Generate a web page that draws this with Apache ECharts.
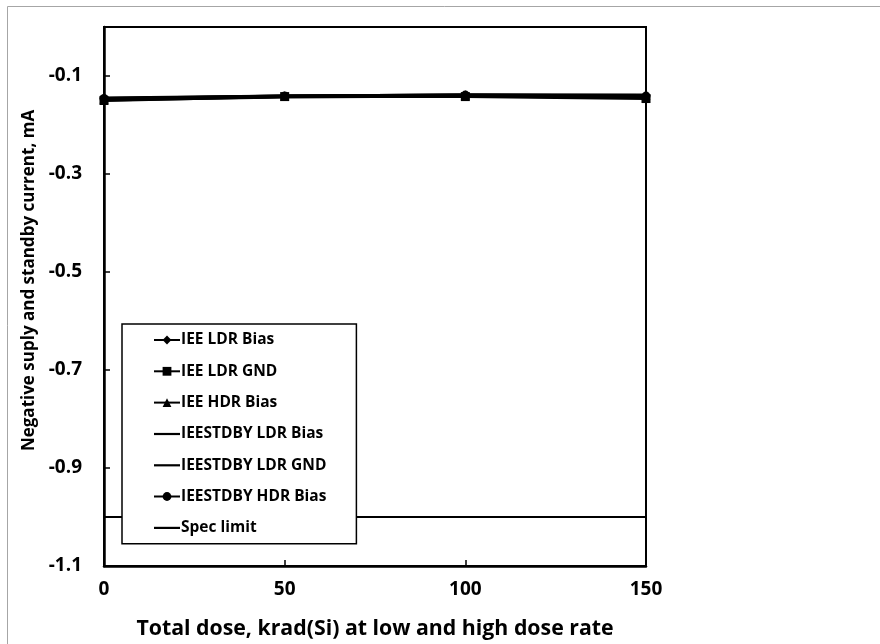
<!DOCTYPE html>
<html><head><meta charset="utf-8">
<script src="https://cdn.jsdelivr.net/npm/echarts@6/dist/echarts.min.js"></script>
<style>html,body{margin:0;padding:0;background:#fff}#c{width:880px;height:644px}</style>
</head><body><div id="c"></div>
<script>
const doses = [0, 50, 100, 150];
const ieeLdrBias = [-0.145, -0.141, -0.139, -0.140];
const ieeLdrGnd = [-0.150, -0.142, -0.142, -0.146];
const ieeHdrBias = [-0.147, -0.141, -0.139, -0.139];
const stdbyLdrBias = [-0.148, -0.142, -0.140, -0.142];
const stdbyLdrGnd = [-0.149, -0.143, -0.141, -0.144];
const stdbyHdrBias = [-0.146, -0.141, -0.139, -0.141];
const specDoses = [0, 150];
const specLimit = [-1.0, -1.0];
const names = ['IEE LDR Bias','IEE LDR GND','IEE HDR Bias','IEESTDBY LDR Bias','IEESTDBY LDR GND','IEESTDBY HDR Bias','Spec limit'];

const FONT = 'Open Sans';
const LINE_ICON = 'path://M0,0M26,11M0,4.5h26v2.2h-26z';
function pts(xs, ys){ return xs.map((x,i)=>[x, ys[i]]); }
function mk(name, ys, symbol, size, xs){
  return {name, type:'line', data: pts(xs||doses, ys), symbol: symbol||'none', symbolSize: size||8, showSymbol: !!symbol,
    lineStyle:{color:'#000', width:3}, itemStyle:{color:'#000'}, emphasis:{disabled:true}, animation:false};
}
const legendData = names.map((n,i)=> (i===3||i===4||i===6) ? {name:n, icon:LINE_ICON} : {name:n});
const chart = echarts.init(document.getElementById('c'), null, {renderer:'canvas'});
chart.setOption({
  animation:false,
  backgroundColor:'#fff',
  graphic:[{type:'rect', shape:{x:7.5,y:6.5,width:900,height:700}, style:{fill:'none', stroke:'#a6a6a6', lineWidth:1}, silent:true}],
  grid:{left:104, right:234, top:27, bottom:78, show:true, borderColor:'#000', borderWidth:2},
  xAxis:{type:'value', min:0, max:150, interval:50,
    name:'Total dose, krad(Si) at low and high dose rate', nameLocation:'middle', nameGap:52,
    nameTextStyle:{fontFamily:FONT, fontWeight:'bold', fontSize:21.3, color:'#000'},
    axisLine:{onZero:false, lineStyle:{color:'#000', width:2.5}},
    axisTick:{inside:true, length:6, lineStyle:{color:'#000', width:1.5}},
    axisLabel:{fontFamily:FONT, fontWeight:'bold', fontSize:19, color:'#000', margin:14},
    splitLine:{show:false}},
  yAxis:{type:'value', min:-1.1, max:0, interval:0.2,
    name:'Negative suply and standby current, mA', nameLocation:'middle', nameGap:44,
    nameTextStyle:{fontFamily:FONT, fontWeight:'bold', fontSize:17, color:'#000', padding:[0,0,0,32]},
    axisLine:{onZero:false, lineStyle:{color:'#000', width:2.5}},
    axisTick:{inside:true, length:6, lineStyle:{color:'#000', width:1.5}},
    axisLabel:{fontFamily:FONT, fontWeight:'bold', fontSize:19, color:'#000', margin:22, showMaxLabel:false,
      formatter:v=> Math.abs(v)<1e-9 ? '' : v.toFixed(1)},
    splitLine:{show:false}},
  legend:{orient:'vertical', left:122, top:324, data:legendData,
    backgroundColor:'#fff', borderColor:'#000', borderWidth:1.5,
    padding:[8,30,8,31], itemGap:15.3, itemWidth:26, itemHeight:11,
    textStyle:{fontFamily:FONT, fontWeight:'bold', fontSize:15.5, color:'#000', padding:[0,0,0,-4]},
    selectedMode:false},
  series:[
    mk(names[0], ieeLdrBias, 'diamond', 9),
    mk(names[1], ieeLdrGnd, 'rect', 9),
    mk(names[2], ieeHdrBias, 'triangle', 9),
    mk(names[3], stdbyLdrBias),
    mk(names[4], stdbyLdrGnd),
    mk(names[5], stdbyHdrBias, 'circle', 9),
    Object.assign(mk(names[6], specLimit, null, 8, specDoses), {lineStyle:{color:'#000', width:2}})
  ]
});
</script></body></html>
